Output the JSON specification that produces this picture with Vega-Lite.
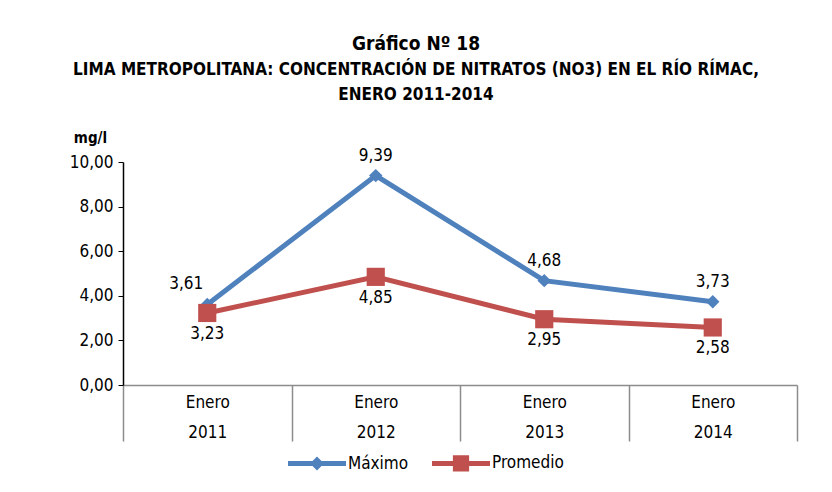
{
  "$schema": "https://vega.github.io/schema/vega-lite/v6.json",
  "width": 674,
  "height": 223,
  "autosize": "none",
  "padding": {"left": 123, "top": 162, "right": 35, "bottom": 107},
  "background": "white",
  "config": {
    "font": "Liberation Sans Narrow, DejaVu Sans Condensed, sans-serif",
    "view": {"stroke": null},
    "locale": {"number": {"decimal": ",", "thousands": ".", "grouping": [3], "currency": ["", ""]}}
  },
  "title": {
    "text": "Gráfico Nº 18",
    "subtitle": ["LIMA METROPOLITANA: CONCENTRACIÓN DE NITRATOS (NO3) EN EL RÍO RÍMAC,", "ENERO 2011-2014"],
    "fontSize": 19,
    "fontWeight": "bold",
    "subtitleFontSize": 17,
    "subtitleFontWeight": "bold",
    "subtitleLineHeight": 25,
    "subtitlePadding": 8,
    "color": "black",
    "subtitleColor": "black",
    "anchor": "middle",
    "frame": "group",
    "dx": -44,
    "offset": 27
  },
  "data": {
    "values": [
      {"periodo": "Enero 2011", "serie": "Máximo", "valor": 3.61},
      {"periodo": "Enero 2012", "serie": "Máximo", "valor": 9.39},
      {"periodo": "Enero 2013", "serie": "Máximo", "valor": 4.68},
      {"periodo": "Enero 2014", "serie": "Máximo", "valor": 3.73},
      {"periodo": "Enero 2011", "serie": "Promedio", "valor": 3.23},
      {"periodo": "Enero 2012", "serie": "Promedio", "valor": 4.85},
      {"periodo": "Enero 2013", "serie": "Promedio", "valor": 2.95},
      {"periodo": "Enero 2014", "serie": "Promedio", "valor": 2.58}
    ]
  },
  "encoding": {
    "x": {
      "field": "periodo",
      "type": "ordinal",
      "sort": null,
      "scale": {"type": "band", "paddingInner": 0, "paddingOuter": 0},
      "axis": {
        "title": null,
        "labelAngle": 0,
        "labelExpr": "split(datum.label, ' ')",
        "labelLineHeight": 30,
        "labelFontSize": 17,
        "labelColor": "black",
        "labelBaseline": "top",
        "tickBand": "extent",
        "tickSize": 56,
        "tickColor": "#8c8c8c",
        "tickWidth": 1.5,
        "domainColor": "#8c8c8c",
        "domainWidth": 1.5,
        "labelPadding": -47
      }
    },
    "y": {
      "field": "valor",
      "type": "quantitative",
      "scale": {"domain": [0, 10]},
      "axis": {
        "values": [0, 2, 4, 6, 8, 10],
        "grid": false,
        "format": ".2f",
        "labelFontSize": 17,
        "labelColor": "black",
        "labelPadding": 5,
        "tickSize": 5,
        "tickColor": "black",
        "domainColor": "black",
        "domainWidth": 1.5,
        "title": "mg/l",
        "titleAngle": 0,
        "titleX": -33,
        "titleY": -17,
        "titleFontSize": 15,
        "titleFontWeight": "bold",
        "titleAlign": "center",
        "titleBaseline": "bottom",
        "titleColor": "black"
      }
    }
  },
  "layer": [
    {
      "transform": [{"filter": "datum.serie === 'Máximo'"}],
      "mark": {"type": "line", "strokeWidth": 5, "color": "#4F81BD"},
      "encoding": {}
    },
    {
      "transform": [{"filter": "datum.serie === 'Promedio'"}],
      "mark": {"type": "line", "strokeWidth": 5, "color": "#C0504D"},
      "encoding": {}
    },
    {
      "transform": [{"filter": "datum.serie === 'Máximo'"}],
      "mark": {"type": "point", "filled": true, "opacity": 1, "shape": "diamond", "size": 180, "color": "#4F81BD"},
      "encoding": {}
    },
    {
      "transform": [{"filter": "datum.serie === 'Promedio'"}],
      "mark": {"type": "point", "filled": true, "opacity": 1, "shape": "square", "size": 330, "color": "#C0504D"},
      "encoding": {}
    },
    {
      "transform": [{"filter": "false"}],
      "mark": {"type": "point", "filled": true, "opacity": 1},
      "encoding": {
        "color": {
          "field": "serie",
          "type": "nominal",
          "scale": {"domain": ["Máximo", "Promedio"], "range": ["#4F81BD", "#C0504D"]},
          "legend": {
            "title": null,
            "orient": "none",
            "direction": "horizontal",
            "legendX": 165,
            "legendY": 272,
            "labelFontSize": 17,
            "labelColor": "black",
            "labelOffset": 2,
            "symbolSize": 3364,
            "symbolOpacity": 1,
            "symbolStrokeWidth": 0,
            "columnPadding": 23
          }
        },
        "shape": {
          "field": "serie",
          "type": "nominal",
          "scale": {
            "domain": ["Máximo", "Promedio"],
            "range": [
              "M-1,-0.086H1V0.086H-1Z M0,-0.24L0.24,0L0,0.24L-0.24,0Z",
              "M-1,-0.086H1V0.086H-1Z M-0.28,-0.28H0.28V0.28H-0.28Z"
            ]
          },
          "legend": {"title": null}
        }
      }
    },
    {
      "transform": [{"filter": "datum.serie === 'Máximo' && datum.periodo !== 'Enero 2011'"}],
      "mark": {"type": "text", "dy": -20, "fontSize": 17},
      "encoding": {
        "text": {"field": "valor", "type": "quantitative", "format": ".2f"},
        "color": {"value": "black"}
      }
    },
    {
      "transform": [{"filter": "datum.serie === 'Máximo' && datum.periodo === 'Enero 2011'"}],
      "mark": {"type": "text", "dy": -20, "dx": -21, "fontSize": 17},
      "encoding": {
        "text": {"field": "valor", "type": "quantitative", "format": ".2f"},
        "color": {"value": "black"}
      }
    },
    {
      "transform": [{"filter": "datum.serie === 'Promedio'"}],
      "mark": {"type": "text", "dy": 21, "fontSize": 17},
      "encoding": {
        "text": {"field": "valor", "type": "quantitative", "format": ".2f"},
        "color": {"value": "black"}
      }
    }
  ]
}
